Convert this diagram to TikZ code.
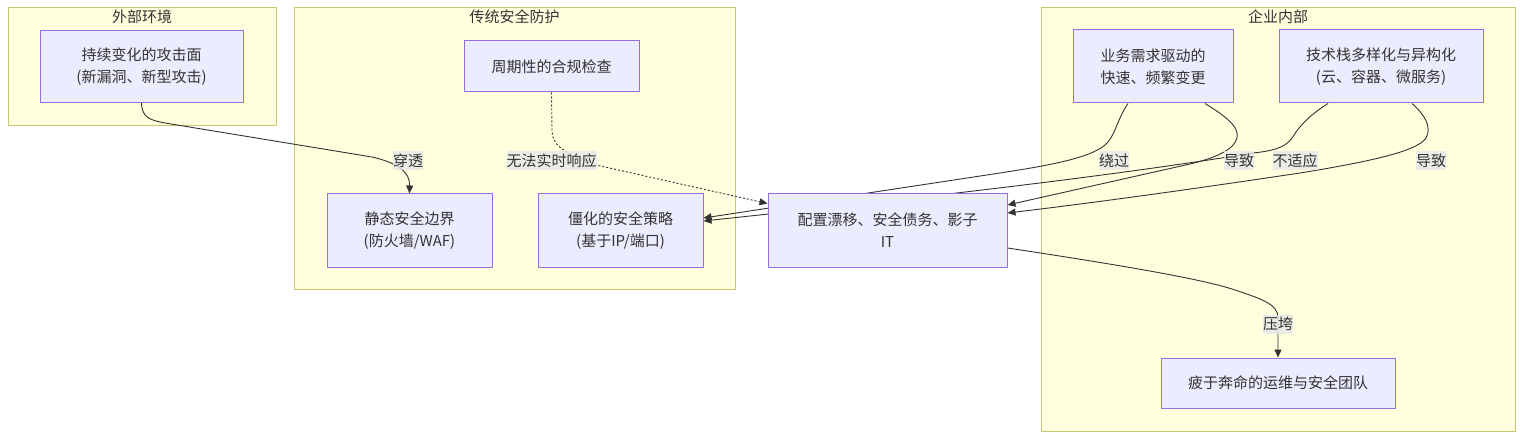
\documentclass[tikz,border=0pt]{standalone}
\usepackage{fontspec}
\setmainfont{Noto Sans CJK SC}
\usetikzlibrary{arrows.meta,calc}
\definecolor{clF}{HTML}{FFFFDE}
\definecolor{clS}{HTML}{C8C870}
\definecolor{nodeF}{HTML}{ECECFF}
\definecolor{nodeS}{HTML}{9370DB}
\definecolor{textc}{HTML}{333333}
\definecolor{edgec}{HTML}{333333}
\definecolor{lblF}{HTML}{E8E8E8}
\pgfdeclarelayer{bg}
\pgfdeclarelayer{edges}
\pgfsetlayers{bg,edges,main}
\tikzset{
  cluster/.style={draw=clS, fill=clF, line width=1pt, inner sep=0pt, anchor=north west},
  ctitle/.style={text=textc, inner sep=0pt, font=\fontsize{15pt}{22pt}\selectfont},
  box/.style={draw=nodeS, fill=nodeF, line width=1pt, text=textc, align=center, inner sep=0pt,
              font=\fontsize{15pt}{22pt}\selectfont},
  conn/.style={draw=edgec, line width=0.9pt, -{Triangle[length=8pt,width=7pt]}},
  dotconn/.style={conn, dash pattern=on 2pt off 2pt},
  elabel/.style={fill=lblF, fill opacity=0.8, text opacity=1, text=textc, inner xsep=0pt, inner ysep=0pt,
                 minimum height=19pt, font=\fontsize{15pt}{22pt}\selectfont}
}
\begin{document}
\begin{tikzpicture}[x=1pt,y=-1pt]
\useasboundingbox (0,0) rectangle (1522,438);
\begin{pgfonlayer}{bg}
  \node[cluster, minimum width=268pt, minimum height=118pt] (cext) at (8,7) {};
  \node[cluster, minimum width=441pt, minimum height=282pt] (ctrad) at (294,7) {};
  \node[cluster, minimum width=474pt, minimum height=424pt] (cent) at (1041,7) {};
\end{pgfonlayer}
\node[ctitle] (text) at (142,17) {外部环境};
\node[ctitle] (ttrad) at (514.5,17) {传统安全防护};
\node[ctitle] (tent) at (1278,17) {企业内部};

\node[box, minimum width=203pt, minimum height=72pt] (atk) at (141.5,66.5) {持续变化的攻击面\\(新漏洞、新型攻击)};
\node[box, minimum width=175pt, minimum height=51pt] (comp) at (551.5,66.5) {周期性的合规检查};
\node[box, minimum width=165pt, minimum height=73pt] (perim) at (409.5,230.5) {静态安全边界\\(防火墙/WAF)};
\node[box, minimum width=165pt, minimum height=73pt] (pol) at (620.5,230.5) {僵化的安全策略\\(基于IP/端口)};
\node[box, minimum width=239pt, minimum height=73pt] (drift) at (887.5,230.5) {配置漂移、安全债务、影子\\IT};
\node[box, minimum width=160pt, minimum height=73pt] (biz) at (1153,66.5) {业务需求驱动的\\快速、频繁变更};
\node[box, minimum width=204pt, minimum height=73pt] (tech) at (1381,66.5) {技术栈多样化与异构化\\(云、容器、微服务)};
\node[box, minimum width=234pt, minimum height=50pt] (team) at (1278,383) {疲于奔命的运维与安全团队};

\begin{pgfonlayer}{edges}
  % 穿透
  \draw[conn] (atk.south) .. controls (142,118) and (150,120) .. (165,123)
     -- (372,157) .. controls (398,163) and (410,172) .. (perim.north);
  % 无法实时响应
  \draw[dotconn] (comp.south) -- (552,130) .. controls (552,145) and (562,152) .. (596,165)
     -- ($(drift.north west)+(0,10)$);
  % 绕过
  \draw[conn] ($(biz.south)+(-25,0)$) .. controls (1118,118) and (1116,132) .. (1108,142)
     .. controls (1095,158) and (1045,166) .. (1000,173) -- ($(pol.east)+(0,-12.5)$);
  % 导致 (业务)
  \draw[conn] ($(biz.south)+(52,0)$) .. controls (1222,114) and (1240,126) .. (1237,138)
     .. controls (1234,150) and (1215,158) .. (1190,164) -- ($(drift.east)+(0,-25.5)$);
  % 不适应
  \draw[conn] ($(tech.south)+(-53,0)$) .. controls (1310,115) and (1300,125) .. (1292,138)
     .. controls (1285,148) and (1272,151) .. (1253,153)
     .. controls (1100,178) and (900,200) .. ($(pol.east)+(0,-9.5)$);
  % 导致 (技术栈)
  \draw[conn] ($(tech.south)+(31,0)$) .. controls (1425,115) and (1432,127) .. (1426,138)
     .. controls (1418,150) and (1380,160) .. (1300,173)
     .. controls (1200,188) and (1100,202) .. ($(drift.east)+(0,-17.5)$);
  % 压垮
  \draw[conn] ($(drift.east)+(0,17.5)$) .. controls (1100,262) and (1200,278) .. (1235,290)
     .. controls (1265,300) and (1278,305) .. (1278,318) -- (team.north);
\end{pgfonlayer}

\node[elabel] (l1) at (408,161) {穿透};
\node[elabel] (l2) at (551.5,161) {无法实时响应};
\node[elabel] (l3) at (1114,161) {绕过};
\node[elabel] (l4) at (1239,161) {导致};
\node[elabel] (l5) at (1295,161) {不适应};
\node[elabel] (l6) at (1431,161) {导致};
\node[elabel] (l7) at (1278,324) {压垮};
\end{tikzpicture}
\end{document}
